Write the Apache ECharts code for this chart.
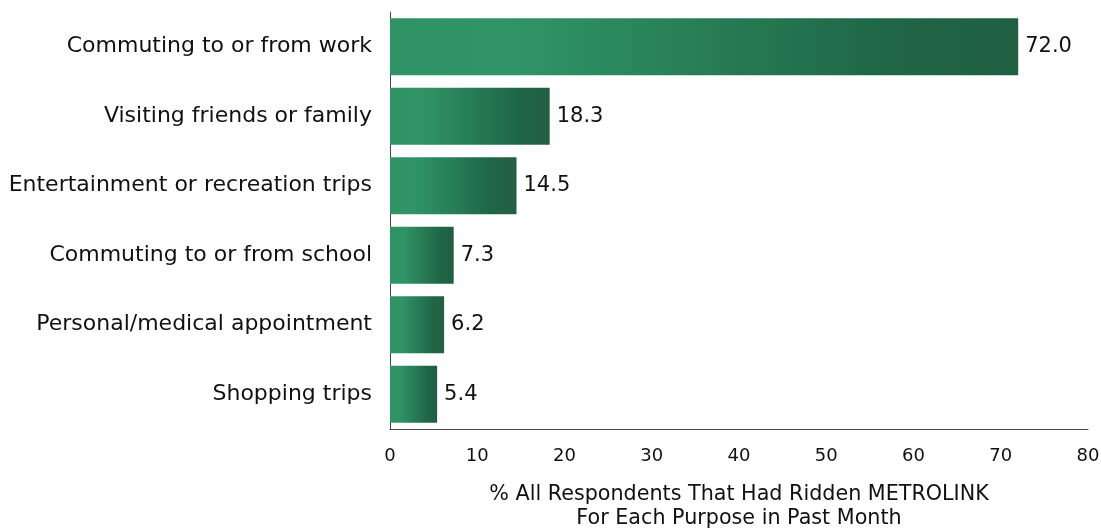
<!DOCTYPE html>
<html>
<head>
<meta charset="utf-8">
<script src="https://cdn.jsdelivr.net/npm/echarts@6/dist/echarts.min.js"></script>
<style>
  html, body { margin: 0; padding: 0; background: #fff; }
  #main { width: 1101px; height: 528px; }
</style>
</head>
<body>
<div id="main"></div>
<script>
// purposes, top to bottom
var categories = [
  'Commuting to or from work',
  'Visiting friends or family',
  'Entertainment or recreation trips',
  'Commuting to or from school',
  'Personal/medical appointment',
  'Shopping trips'
];
var values = [72.0, 18.3, 14.5, 7.3, 6.2, 5.4];
var xTicks = [0, 80, 10]; // min, max, interval

var chart = echarts.init(document.getElementById('main'), null, { renderer: 'canvas' });

// light green on the left, dark green on the right of every bar
var barColor = new echarts.graphic.LinearGradient(0, 0, 1, 0, [
  { offset: 0, color: '#2f9365' },
  { offset: 0.2, color: '#309466' },
  { offset: 0.8, color: '#1f6646' },
  { offset: 1, color: '#215f43' }
]);

var option = {
  animation: false,
  grid: {
    left: 390,
    right: 13,
    top: 12,
    bottom: 99,
    containLabel: false,
    outerBoundsMode: 'none'
  },
  xAxis: {
    type: 'value',
    min: xTicks[0],
    max: xTicks[1],
    interval: xTicks[2],
    name: '% All Respondents That Had Ridden METROLINK\nFor Each Purpose in Past Month',
    nameLocation: 'middle',
    nameGap: 54,
    nameTextStyle: {
      fontFamily: 'DejaVu Sans',
      fontSize: 20.7,
      color: '#111',
      lineHeight: 24
    },
    axisLine: { show: true, lineStyle: { color: '#444', width: 1 } },
    axisTick: { show: false },
    splitLine: { show: false },
    axisLabel: {
      fontFamily: 'DejaVu Sans',
      fontSize: 18,
      color: '#111',
      margin: 18
    }
  },
  yAxis: {
    type: 'category',
    inverse: true,
    data: categories,
    axisLine: { show: true, lineStyle: { color: '#444', width: 1 } },
    axisTick: { show: false },
    axisLabel: {
      fontFamily: 'DejaVu Sans',
      fontSize: 22,
      color: '#111',
      margin: 18
    }
  },
  series: [{
    type: 'bar',
    data: values,
    barWidth: 57,
    itemStyle: { color: barColor },
    label: {
      show: true,
      position: 'right',
      distance: 7,
      fontFamily: 'DejaVu Sans',
      fontSize: 21,
      color: '#111',
      formatter: function (p) { return p.value.toFixed(1); }
    }
  }]
};

chart.setOption(option);
</script>
</body>
</html>
